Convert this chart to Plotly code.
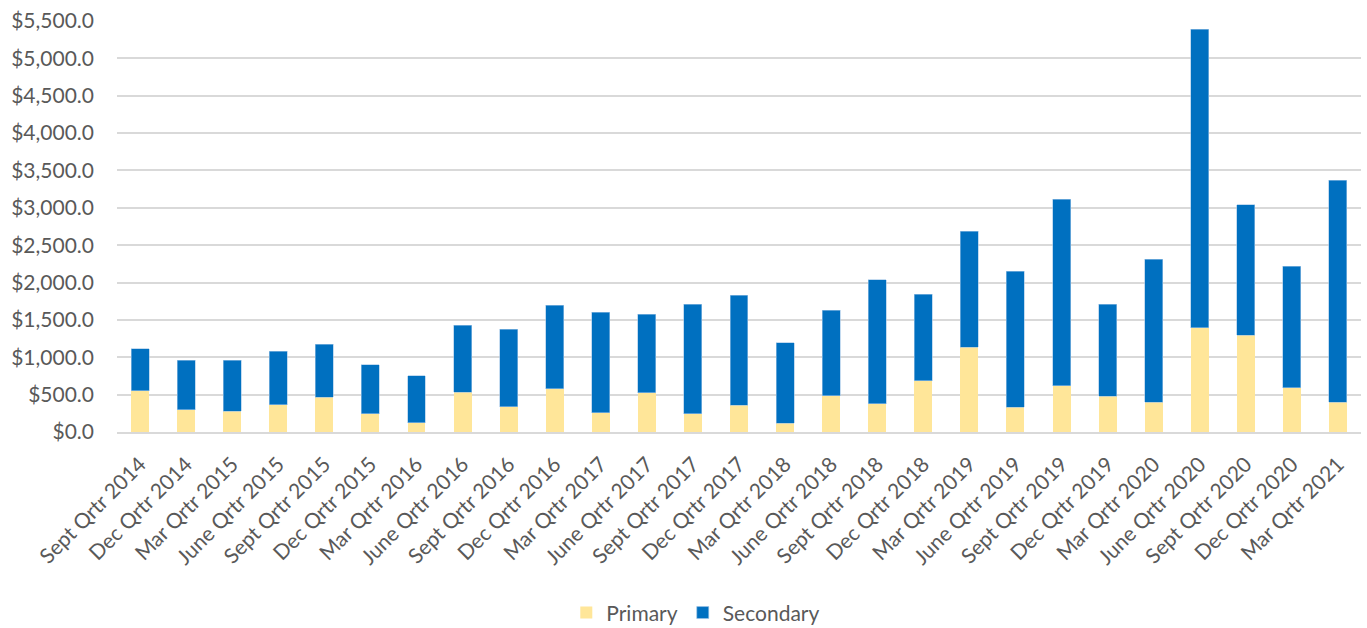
import plotly.graph_objects as go

categories = [
    "Sept Qrtr 2014", "Dec Qrtr 2014", "Mar Qrtr 2015", "June Qrtr 2015",
    "Sept Qrtr 2015", "Dec Qrtr 2015", "Mar Qrtr 2016", "June Qrtr 2016",
    "Sept Qrtr 2016", "Dec Qrtr 2016", "Mar Qrtr 2017", "June Qrtr 2017",
    "Sept Qrtr 2017", "Dec Qrtr 2017", "Mar Qrtr 2018", "June Qrtr 2018",
    "Sept Qrtr 2018", "Dec Qrtr 2018", "Mar Qrtr 2019", "June Qrtr 2019",
    "Sept Qrtr 2019", "Dec Qrtr 2019", "Mar Qrtr 2020", "June Qrtr 2020",
    "Sept Qrtr 2020", "Dec Qrtr 2020", "Mar Qrtr 2021",
]

primary = [550, 295, 277, 366, 465, 246, 121, 535, 335, 576, 259, 527,
           246, 357, 116, 483, 380, 688, 1135, 331, 617, 478, 398, 1398,
           1296, 594, 398]

totals = [1117, 961, 961, 1081, 1175, 903, 755, 1430, 1372, 1693, 1604, 1577,
          1711, 1827, 1193, 1631, 2037, 1845, 2685, 2149, 3114, 1711, 2310, 5393,
          3043, 2216, 3369]

secondary = [t - p for t, p in zip(totals, primary)]

font_family = "Lato, Open Sans, sans-serif"
text_color = "#595959"

fig = go.Figure()
fig.add_trace(go.Bar(
    x=categories, y=primary, name="Primary",
    marker=dict(color="#FFE699", line=dict(width=0)),
))
fig.add_trace(go.Bar(
    x=categories, y=secondary, name="Secondary",
    marker=dict(color="#0070C0", line=dict(color="#9DC3E6", width=0.6)),
))

fig.update_layout(
    barmode="stack",
    bargap=0.61,
    width=1367, height=628,
    margin=dict(l=117, r=6, t=21, b=196, autoexpand=False),
    paper_bgcolor="white", plot_bgcolor="white",
    font=dict(family=font_family, color=text_color, size=20),
    legend=dict(
        orientation="h", xref="container", yref="container",
        x=0.509, xanchor="center", y=0.024, yanchor="middle",
        font=dict(size=21, color=text_color), traceorder="normal",
    ),
    xaxis=dict(
        tickangle=-45, showgrid=False, showline=True, linecolor="#D9D9D9",
        linewidth=1.5, ticks="", automargin=False,
        tickfont=dict(size=21, color=text_color), ticklabelstandoff=10,
    ),
    yaxis=dict(
        range=[0, 5500], dtick=500, tickprefix="$", tickformat=",.1f",
        showgrid=True, gridcolor="#D9D9D9", gridwidth=1.5,
        zeroline=False, showline=False, ticks="", automargin=False,
        tickfont=dict(size=21, color=text_color), ticklabelstandoff=22,
    ),
)

fig.write_html(
    "out.html",
    config={"displayModeBar": False},
    post_script="document.body.style.margin='0';document.body.style.overflow='hidden';",
)
